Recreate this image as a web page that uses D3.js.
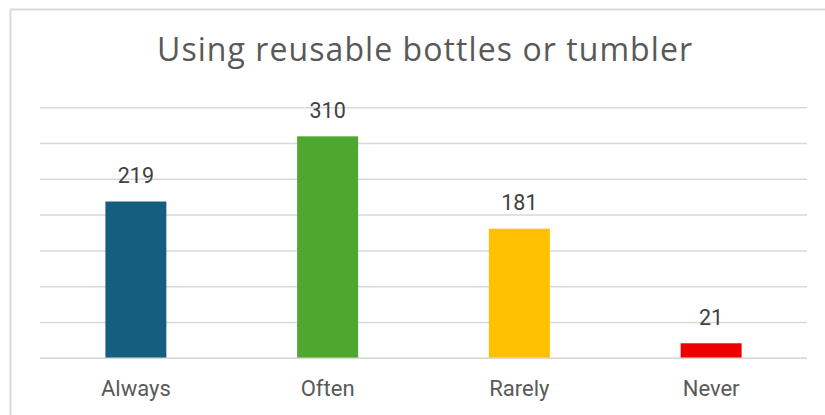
<!DOCTYPE html>
<html>
<head>
<meta charset="utf-8">
<script src="https://cdn.jsdelivr.net/npm/d3@7"></script>
<style>
  html, body { margin: 0; padding: 0; background: #ffffff; }
  svg { display: block; }
</style>
</head>
<body>
<script>
const title = "Using reusable bottles or tumbler";
const categories = ["Always", "Often", "Rarely", "Never"];
const values = [219, 310, 181, 21];
const barColors = ["#165E80", "#4EA72E", "#FFC000", "#EE0000"];
const yTicks = [0, 50, 100, 150, 200, 250, 300, 350];

const W = 825, H = 415;
const svg = d3.select("body").append("svg").attr("width", W).attr("height", H);

// outer chart border (extends past the visible area)
svg.append("rect")
  .attr("x", 10.5).attr("y", 9.5)
  .attr("width", W + 20).attr("height", H + 20)
  .attr("fill", "#ffffff")
  .attr("stroke", "#d9d9d9").attr("stroke-width", 2);

const x = d3.scaleBand().domain(categories).range([40, 807])
  .paddingInner(0.682).paddingOuter(0.341);
const y = d3.scaleLinear().domain([0, 350]).range([358.3, 107.7]);

// gridlines
svg.append("g").selectAll("line").data(yTicks).join("line")
  .attr("x1", 40).attr("x2", 807)
  .attr("y1", d => y(d)).attr("y2", d => y(d))
  .attr("stroke", "#d9d9d9").attr("stroke-width", 1.5);

// bars
const data = categories.map((c, i) => ({ c, v: values[i], col: barColors[i] }));
svg.append("g").selectAll("rect").data(data).join("rect")
  .attr("x", d => x(d.c)).attr("width", x.bandwidth())
  .attr("y", d => y(d.v)).attr("height", d => y(0) - y(d.v))
  .attr("fill", d => d.col);

// baseline redraw over bars
svg.append("line")
  .attr("x1", 40).attr("x2", 807).attr("y1", y(0)).attr("y2", y(0))
  .attr("stroke", "#d9d9d9").attr("stroke-width", 1.5);

// data labels
svg.append("g").selectAll("text").data(data).join("text")
  .attr("x", d => x(d.c) + x.bandwidth() / 2)
  .attr("y", d => y(d.v) - 18.5)
  .attr("text-anchor", "middle")
  .attr("font-family", "Roboto, 'Open Sans', sans-serif")
  .attr("font-size", 21.5)
  .attr("fill", "#404040")
  .text(d => d.v);

// category axis labels
const xAxis = d3.axisBottom(x).tickSize(0).tickPadding(0);
const gx = svg.append("g").attr("transform", `translate(0,${y(0)})`).call(xAxis);
gx.select(".domain").remove();
gx.selectAll("text")
  .attr("dy", null)
  .attr("y", 37.7)
  .attr("font-family", "Roboto, 'Open Sans', sans-serif")
  .attr("font-size", 22)
  .attr("fill", "#595959");

// title
svg.append("text")
  .attr("x", 424.5).attr("y", 61)
  .attr("text-anchor", "middle")
  .attr("font-family", "'Open Sans', Roboto, sans-serif")
  .attr("font-size", 32)
  .attr("fill", "#595959")
  .attr("textLength", 535).attr("lengthAdjust", "spacing")
  .text(title);
</script>
</body>
</html>
